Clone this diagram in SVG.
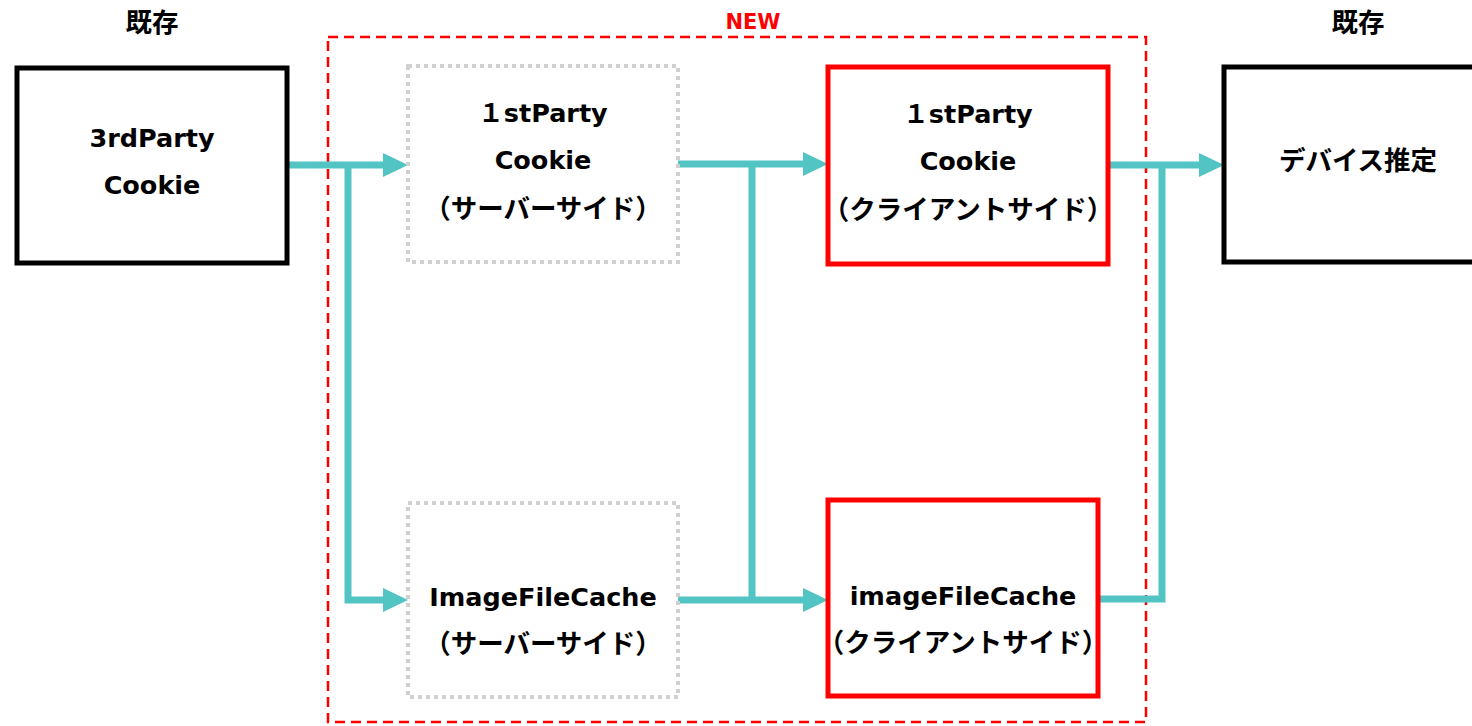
<svg xmlns="http://www.w3.org/2000/svg" width="1472" height="726" viewBox="0 0 1472 726">
<style>
text{font-family:"DejaVu Sans","Noto Sans CJK JP",sans-serif;font-weight:bold;font-size:25.5px;text-anchor:middle;dominant-baseline:central;fill:#000}
text.jp{font-family:"Noto Sans CJK JP",sans-serif;font-size:26.5px}
.solid{fill:#fff;stroke:#000;stroke-width:5}
.red{fill:#fff;stroke:#ff0000;stroke-width:5}
.dot{fill:#fff;stroke:#d0d0d0;stroke-width:4;stroke-dasharray:4 4}
.conn{fill:none;stroke:#52c4c4;stroke-width:7}
</style>
<defs>
<marker id="ah" markerUnits="userSpaceOnUse" markerWidth="26" markerHeight="26" refX="13" refY="12" orient="auto">
<path d="M0,0 L25,12 L0,24 Z" fill="#52c4c4"/>
</marker>
</defs>
<rect x="328" y="37" width="818" height="685" fill="none" stroke="#ff0000" stroke-width="2.5" stroke-dasharray="10 6"/>
<text class="jp" x="152" y="20">既存</text>
<text class="jp" x="1358" y="20">既存</text>
<text x="753" y="22" style="fill:#ff0000;font-size:21px">NEW</text>
<g id="conns">
<path class="conn" d="M287,165 H396" marker-end="url(#ah)"/>
<path class="conn" d="M348,165 V600 H396" marker-end="url(#ah)"/>
<path class="conn" d="M678,164 H816" marker-end="url(#ah)"/>
<path class="conn" d="M752,164 V600"/>
<path class="conn" d="M678,600 H816" marker-end="url(#ah)"/>
<path class="conn" d="M1108,165 H1212" marker-end="url(#ah)"/>
<path class="conn" d="M1162,165 V599 H1098"/>
</g>
<g id="n-3rd">
<rect class="solid" x="17" y="68" width="270" height="195"/>
<text x="152" y="138">3rdParty</text>
<text x="152" y="185">Cookie</text>
</g>
<g id="n-1st-server">
<rect class="dot" x="408" y="66" width="270" height="196"/>
<text x="543" y="113">１stParty</text>
<text x="543" y="160">Cookie</text>
<text class="jp" x="543" y="206">（サーバーサイド）</text>
</g>
<g id="n-1st-client">
<rect class="red" x="828" y="67" width="280" height="197"/>
<text x="968" y="114">１stParty</text>
<text x="968" y="161">Cookie</text>
<text class="jp" x="968" y="207">（クライアントサイド）</text>
</g>
<g id="n-device">
<rect class="solid" x="1224" y="67" width="260" height="195"/>
<text class="jp" x="1358" y="158">デバイス推定</text>
</g>
<g id="n-img-server">
<rect class="dot" x="408" y="503" width="270" height="194"/>
<text x="543" y="597">ImageFileCache</text>
<text class="jp" x="543" y="641">（サーバーサイド）</text>
</g>
<g id="n-img-client">
<rect class="red" x="828" y="500" width="270" height="196"/>
<text x="963" y="596">imageFileCache</text>
<text class="jp" x="963" y="640">（クライアントサイド）</text>
</g>
</svg>
